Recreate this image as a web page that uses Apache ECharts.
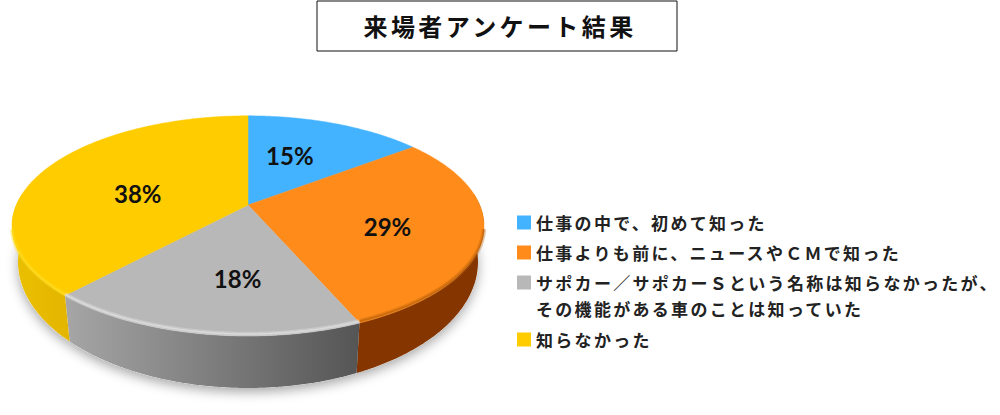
<!DOCTYPE html>
<html><head><meta charset="utf-8">
<script src="https://cdn.jsdelivr.net/npm/echarts@6/dist/echarts.min.js"></script>
<style>
html,body{margin:0;padding:0;background:#fff}
#c{width:1000px;height:415px}
text[style*="Noto"][style*="24px"]{letter-spacing:3.4px}
text[style*="Noto"][style*="17px"]{letter-spacing:2.3px}
</style></head><body><div id="c"></div>
<script>
const titleText = '来場者アンケート結果';
const names = ['仕事の中で、初めて知った','仕事よりも前に、ニュースやＣＭで知った','サポカー／サポカーＳという名称は知らなかったが、','知らなかった'];
const secondLine = 'その機能がある車のことは知っていた';
const values = [14.6,28.9,18.4,38.1];
const topColors = ['#44B3FF','#FF8C1A','#B8B8B8','#FFCC00'];
const sideStops = [['#2A80C0','#2A80C0'],['#843500','#843500'],['#A6A6A6','#555555'],['#EBC000','#E3B500']];
const rimColors = ['#7CCBFF','#B85F0C','#E6E6E6','#FFDD22'];
const labelNudge = [[-14,2],[1,5],[16,3],[14,11]];
const FONT = '"Noto Sans CJK JP"';

// pie geometry: a tilted disc seen in perspective
const G = {cx:248, cy:226, rx:236, ry:110, bcy:262, brx:230, bry:126, k:-0.19, a:110.1, b:-21, c:231.7};
const total = values.reduce((s,v)=>s+v,0);
function proj(f, r){
  const t = f*2*Math.PI, x = r*Math.sin(t), y = -r*Math.cos(t), w = 1+G.k*y;
  return [G.c*x/w, (G.a*y+G.b)/w];
}
const topPt = f=>{const p=proj(f,1);return [G.cx+p[0],G.cy+p[1]];};
const basePt = f=>{const p=proj(f,1);return [G.cx+G.brx*p[0]/G.rx,G.bcy+G.bry*p[1]/G.ry];};
const frontness = f=>proj(f,1)[1]/G.ry;

function renderSlice(idx){
  return function(params, api){
    const val = api.value(0);
    let start = 0;
    for(let i=0;i<idx;i++) start += values[i]/total;
    const end = start+val/total, N = 160;
    const arc = [];
    for(let i=0;i<=N;i++) arc.push(start+(end-start)*i/N);
    const apex = [G.cx+proj(0,0)[0],G.cy+proj(0,0)[1]];
    const kids = [];
    const front = arc.filter(f=>frontness(f)>-0.3);
    if(front.length>1){
      const topArc = front.map(topPt), baseArc = front.map(basePt);
      kids.push({type:'polygon',z2:0,shape:{points:baseArc.concat([[baseArc[baseArc.length-1][0],G.bcy],[baseArc[0][0],G.bcy]])},
        style:{fill:'#fff',shadowBlur:12,shadowColor:'rgba(0,0,0,0.35)',shadowOffsetY:4}});
      kids.push({type:'polygon',z2:1,shape:{points:topArc.concat(baseArc.slice().reverse())},
        style:{fill:new echarts.graphic.LinearGradient(0,0,1,0,[{offset:0,color:sideStops[idx][0]},{offset:1,color:sideStops[idx][1]}])}});
    }
    kids.push({type:'polygon',z2:2,shape:{points:[apex].concat(arc.map(topPt))},style:{fill:topColors[idx],stroke:topColors[idx],lineWidth:0.5}});
    const rim = arc.filter(f=>frontness(f)>0.02);
    if(rim.length>1){
      const rimPts = off=>rim.map(f=>{const p=topPt(f);return [p[0],p[1]-off*frontness(f)];});
      kids.push({type:'polyline',z2:3,shape:{points:rimPts(2)},style:{fill:null,stroke:rimColors[idx],lineWidth:4.5,opacity:0.35}});
      kids.push({type:'polyline',z2:4,shape:{points:rimPts(2)},style:{fill:null,stroke:rimColors[idx],lineWidth:1.5,opacity:0.6}});
    }
    const lp = proj((start+end)/2,0.6);
    kids.push({type:'text',z2:5,x:G.cx+lp[0]+labelNudge[idx][0],y:G.cy+lp[1]+labelNudge[idx][1],
      style:{text:Math.round(val)+'%',fill:'#111',font:'bold 24px Lato',align:'center',verticalAlign:'middle'}});
    return {type:'group',children:kids};
  };
}

const chart = echarts.init(document.getElementById('c'),null,{renderer:'svg'});
chart.setOption({
  animation:false,
  title:{text:titleText,left:316.5,top:0.5,padding:[13,74,14,47],borderWidth:1,borderColor:'#111',
    textStyle:{fontFamily:FONT,fontSize:24,fontWeight:'bold',color:'#111'}},
  legend:[
    {orient:'vertical',left:517,top:214,padding:0,itemWidth:14,itemHeight:14,itemGap:13,icon:'rect',selectedMode:false,
     data:names.slice(0,3),textStyle:{fontFamily:FONT,fontSize:17,fontWeight:'bold',color:'#222'}},
    {orient:'vertical',left:517,top:331,padding:0,itemWidth:14,itemHeight:14,icon:'rect',selectedMode:false,
     data:names.slice(3),textStyle:{fontFamily:FONT,fontSize:17,fontWeight:'bold',color:'#222'}}
  ],
  graphic:[{type:'text',left:536,top:300,style:{text:secondLine,fill:'#222',font:'bold 17px '+FONT}}],
  series:names.map((n,i)=>({type:'custom',name:n,coordinateSystem:'none',renderItem:renderSlice(i),
    itemStyle:{color:topColors[i]},data:[[values[i]]],silent:true}))
});
</script></body></html>
